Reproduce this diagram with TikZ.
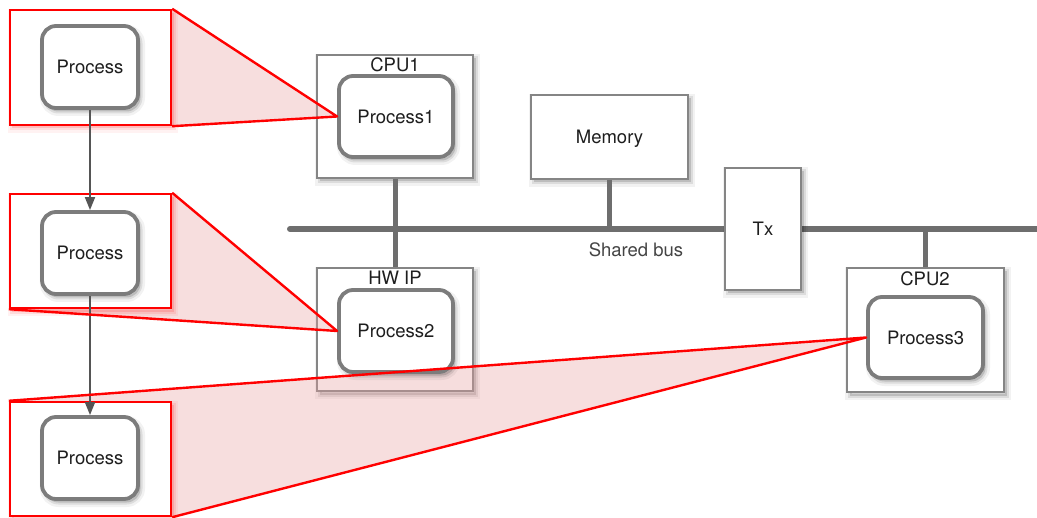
\documentclass[tikz,border=0pt]{standalone}
\usepackage{fontspec}
\setmainfont{TeX Gyre Heros}
\usetikzlibrary{arrows.meta}
\definecolor{frameline}{HTML}{858585}
\definecolor{procline}{HTML}{7C7C7C}
\definecolor{busline}{HTML}{6E6E6E}
\definecolor{flowline}{HTML}{555555}
\definecolor{ink}{HTML}{1E1E1E}
\definecolor{buslabel}{HTML}{444444}
\definecolor{zoomfill}{HTML}{E8A0A0}
\pgfdeclarelayer{base}
\pgfdeclarelayer{shade}
\pgfsetlayers{base,shade,main}

\begin{document}
\begin{tikzpicture}[x=1bp,y=-1bp,
  every node/.style={text=ink, font=\fontsize{18.5bp}{22bp}\selectfont},
  softshade/.style={
    preaction={draw=none, fill=#1, fill opacity=0.14, transform canvas={xshift=2.5bp,yshift=-3.5bp}},
    preaction={fill=none, draw=#1, draw opacity=0.09, line width=4bp, transform canvas={xshift=2.5bp,yshift=-3.5bp}},
    preaction={fill=none, draw=#1, draw opacity=0.05, line width=9bp, transform canvas={xshift=2.5bp,yshift=-3.5bp}}},
  unit/.style={draw=frameline, line width=1.8bp, fill=white, inner sep=0pt, softshade=black},
  proc/.style={draw=procline, line width=3.8bp, fill=white, rounded corners=14bp,
    minimum width=96bp, minimum height=82bp, inner sep=0pt, text depth=0pt, softshade=black},
  zoombox/.style={draw=red, line width=2.4bp, fill=white, minimum width=161bp,
    minimum height=115bp, inner sep=0pt, softshade=red},
  zoomedge/.style={draw=red, line width=2.4bp, line join=round},
  zoomarea/.style={fill=zoomfill, fill opacity=0.35},
  link/.style={draw=busline, line width=5bp},
  flow/.style={draw=flowline, line width=1.8bp, -{Triangle[length=13bp,width=10bp]}},
  tag/.style={inner sep=0pt},
]
\useasboundingbox (0,0) rectangle (1037,518);

% ---- platform: shared bus and the units hanging on it
\begin{pgfonlayer}{base}
  \coordinate (busL) at (290,229);
  \coordinate (busR) at (1040,229);
  \draw[link, line width=6bp, line cap=round] (busL) -- (busR);

  \node[unit, minimum width=156bp, minimum height=123bp] (cpu1) at (395,116.5) {};
  \node[tag] (cpu1lab) at (395,65) {CPU1};
  \node[unit, minimum width=156bp, minimum height=123bp] (hwip) at (395,329.5) {};
  \node[tag] (hwiplab) at (395,277.5) {HW IP};
  \node[unit, minimum width=157bp, minimum height=84bp, text depth=0pt] (mem) at (609.5,137) {Memory};
  \node[unit, minimum width=76bp, minimum height=122bp] (tx) at (763,229) {Tx};
  \node[unit, minimum width=157bp, minimum height=124bp] (cpu2) at (925.5,330) {};
  \node[tag] (cpu2lab) at (925,278.5) {CPU2};
  \node[tag, text=buslabel] (buslab) at (636,250) {Shared bus};

  \draw[link] (cpu1.south) -- (hwip.north);
  \draw[link] (mem.south) -- (mem.south |- busL);
  \draw[link] (cpu2.north) -- (cpu2.north |- busL);
\end{pgfonlayer}

% ---- processes mapped onto the units
\node[proc, minimum width=114bp, minimum height=81bp] (P1) at (396,116.5) {Process1};
\node[proc, minimum width=114bp, minimum height=82bp] (P2) at (396,331) {Process2};
\node[proc, minimum width=115bp, minimum height=81bp] (P3) at (925.5,337.5) {Process3};

% ---- process chain on the left, each in its zoom frame
\node[zoombox] (rb1) at (90.5,67.5) {};
\node[zoombox, minimum height=114bp] (rb2) at (90.5,251) {};
\node[zoombox, minimum height=114bp] (rb3) at (90.5,459) {};
\node[proc] (pa) at (90,67) {Process};
\node[proc] (pb) at (90,253) {Process};
\node[proc] (pc) at (90,458) {Process};
\draw[flow] (pa) -- (pb);
\draw[flow] (pb) -- (pc);

% ---- zoom wedges
\begin{pgfonlayer}{shade}
  \fill[zoomarea] (rb1.north east) -- (P1.west) -- (rb1.south east) -- cycle;
  \fill[zoomarea] (rb2.north east) -- (P2.west) -- (rb2.south west) -- cycle;
  \fill[zoomarea] (rb3.north west) -- (P3.west) -- (rb3.south east) -- cycle;
\end{pgfonlayer}
\draw[zoomedge] (rb1.north east) -- (P1.west) -- (rb1.south east);
\draw[zoomedge] (rb2.north east) -- (P2.west) -- (rb2.south west);
\draw[zoomedge] (rb3.north west) -- (P3.west) -- (rb3.south east);
\end{tikzpicture}
\end{document}
